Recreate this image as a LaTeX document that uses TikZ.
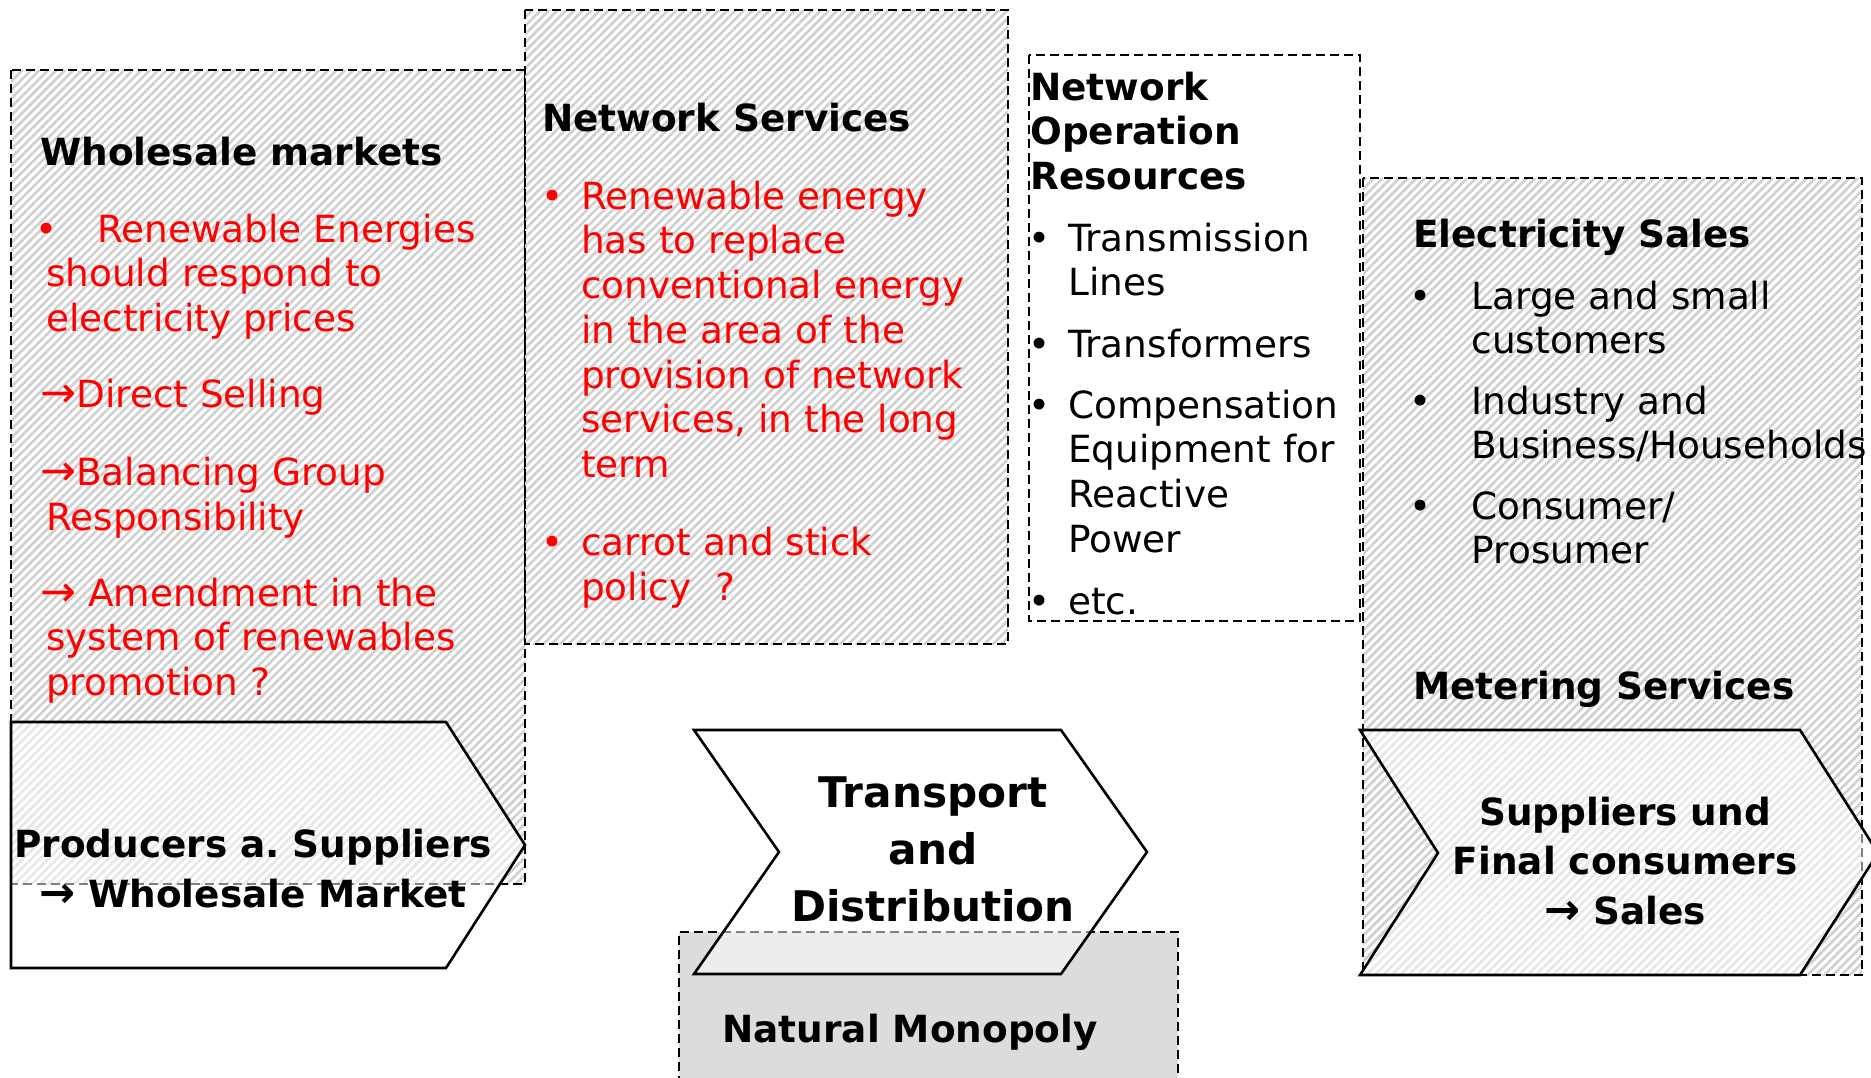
\documentclass[tikz,border=0pt]{standalone}
\usepackage{fontspec}
\setmainfont{DejaVu Sans}
\usetikzlibrary{patterns.meta}
\definecolor{hatchgray}{HTML}{D0D0D0}
\definecolor{monogray}{HTML}{DCDCDC}
\definecolor{redtxt}{HTML}{FF0000}
\frenchspacing
\newcommand\fsA{\fontsize{37.4pt}{44.7pt}\selectfont}
\newcommand\fsP{\fontsize{37.4pt}{50.5pt}\selectfont\bfseries}
\newcommand\fsT{\fontsize{42.2pt}{57pt}\selectfont\bfseries}
\newcommand\fsS{\fontsize{37.4pt}{49.5pt}\selectfont\bfseries}
\newcommand\tstrut{\rule{0pt}{30pt}}
\newcommand\bigarr{{\fontsize{43pt}{44.7pt}\selectfont →}}
\begin{document}
\begin{tikzpicture}[x=1pt,y=-1pt,
  hatchbox/.style={pattern={Lines[angle=45,distance=6pt,line width=2.7pt]},pattern color=hatchgray},
  dashbox/.style={draw=black,line width=2.9pt,dash pattern=on 9pt off 5pt},
  chev/.style={draw=black,line width=2.6pt,fill=white,fill opacity=0.5,line join=miter},
  tbody/.style={inner sep=0pt,anchor=north west,align=left,font=\fsA},
  ttitle/.style={inner sep=0pt,anchor=base west,font=\fsA\bfseries},
  ctext/.style={inner sep=0pt,anchor=north,align=center}]
\useasboundingbox (0,0) rectangle (1871,1077);

% boxes
\path[hatchbox,dashbox] (11,70) rectangle (525,884);
\path[hatchbox,dashbox] (525,10) rectangle (1008,644);
\path[dashbox] (1029,55) rectangle (1360,621);
\path[hatchbox,dashbox] (1363,178) rectangle (1862,975);

% wholesale markets
\node[ttitle] (wsT) at (40,165) {Wholesale markets};
\node[tbody,text=redtxt] (wsB) at (35,212) {\tstrut\makebox[62pt][l]{•}Renewable Energies\\
\hspace*{11pt}should respond to\\
\hspace*{11pt}electricity prices\\[31.3pt]
\hspace*{5pt}\bigarr Direct Selling\\[33.3pt]
\hspace*{5pt}\bigarr Balancing Group\\
\hspace*{11pt}Responsibility\\[31pt]
\hspace*{5pt}\bigarr\ Amendment in the\\
\hspace*{11pt}system of renewables\\
\hspace*{11pt}promotion ?};

% network services
\node[ttitle] (nsT) at (542,131) {Network Services};
\node[tbody,text=redtxt] (nsB) at (541.5,179) {\tstrut\makebox[39.5pt][l]{•}Renewable energy\\
\hspace*{39.5pt}has to replace\\
\hspace*{39.5pt}conventional energy\\
\hspace*{39.5pt}in the area of the\\
\hspace*{39.5pt}provision of network\\
\hspace*{39.5pt}services, in the long\\
\hspace*{39.5pt}term\\[33.3pt]
\makebox[39.5pt][l]{•}carrot and stick\\
\hspace*{39.5pt}policy\hspace{24pt}?};

% network operation resources
\node[tbody,font=\fsA\bfseries] (norT) at (1030,70) {\tstrut Network\\Operation\\Resources};
\node[tbody] (norB) at (1028,221) {\tstrut\makebox[40pt][l]{•}Transmission\\
\hspace*{40pt}Lines\\[16.6pt]
\makebox[40pt][l]{•}Transformers\\[16.3pt]
\makebox[40pt][l]{•}Compensation\\
\hspace*{40pt}Equipment for\\
\hspace*{40pt}Reactive\\
\hspace*{40pt}Power\\[17pt]
\makebox[40pt][l]{•}etc.};

% electricity sales
\node[ttitle] (esT) at (1413,247) {Electricity Sales};
\node[tbody] (esB) at (1409.5,279) {\tstrut\makebox[62pt][l]{•}Large and small\\
\hspace*{62pt}customers\\[15.6pt]
\makebox[62pt][l]{•}Industry and\\
\hspace*{62pt}Business/Households\\[15.6pt]
\makebox[62pt][l]{•}Consumer/\\
\hspace*{62pt}Prosumer};
\node[ttitle] (msT) at (1413,699) {Metering Services};

% natural monopoly
\path[fill=monogray] (679,932) rectangle (1178,1085);
\draw[dashbox] (679,1085) -- (679,932) -- (1178,932) -- (1178,1085);
\node[inner sep=0pt,anchor=base,font=\fsA\bfseries] (mono) at (910,1042) {Natural Monopoly};

% chevrons
\path[chev] (11,722) -- (446,722) -- (525,845) -- (446,968) -- (11,968) -- cycle;
\path[chev] (694,730) -- (1061,730) -- (1147,852) -- (1061,974) -- (694,974) -- (779,852) -- cycle;
\path[chev] (1360,730) -- (1800,730) -- (1878,853) -- (1800,975) -- (1360,975) -- (1438,853) -- cycle;

\node[ctext,font=\fsP] (prodT) at (253,827) {\tstrut Producers a. Suppliers\\\bigarr\ Wholesale Market};
\node[ctext,font=\fsT] (trT) at (933,773) {\rule{0pt}{34pt}Transport\\and\\Distribution};
\node[ctext,font=\fsS] (supT) at (1625,795) {\tstrut Suppliers und\\Final consumers\\\bigarr\ Sales};
\end{tikzpicture}
\end{document}
